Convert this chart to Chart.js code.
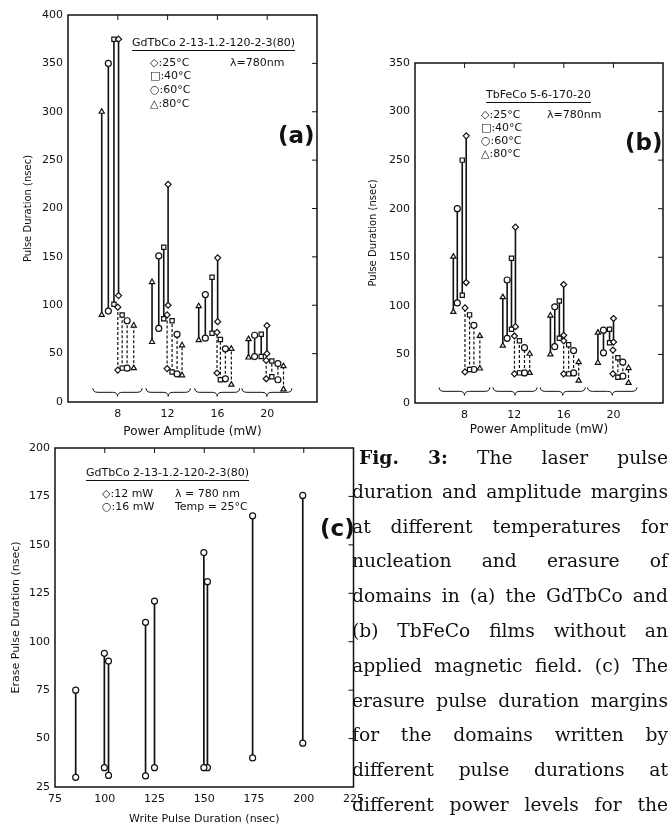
<!DOCTYPE html>
<html lang="en">
<head>
<meta charset="UTF-8">
<script src="https://cdn.jsdelivr.net/npm/chart.js@4.4.0/dist/chart.umd.min.js"></script>
<style>
  body { margin: 0; background: #fff; width: 672px; height: 826px; position: relative; overflow: hidden; font-family: "DejaVu Sans", sans-serif; color: #111; }
  canvas { position: absolute; }
  .lbl { position: absolute; font-size: 11px; white-space: nowrap; line-height: 13px; }
  .u { border-bottom: 1.5px solid #111; padding-bottom: 1px; }
  .big { position: absolute; font-size: 23px; font-weight: bold; line-height: 26px; }
  #caption { position: absolute; left: 352px; top: 440px; width: 316px; font-family: "DejaVu Serif", serif; font-size: 18.7px; }
  #caption div { height: 34.8px; line-height: 34.8px; text-align: justify; text-align-last: justify; white-space: nowrap; }
</style>
</head>
<body>
<canvas id="chartA" width="330" height="440" style="left:0;top:0"></canvas>
<canvas id="chartB" width="332" height="440" style="left:340px;top:0"></canvas>
<canvas id="chartC" width="370" height="396" style="left:0;top:430px"></canvas>

<!-- panel (a) labels -->
<div class="lbl u" style="left:132px;top:36px">GdTbCo 2-13-1.2-120-2-3(80)</div>
<div class="lbl" style="left:150px;top:56px">◇:25°C</div>
<div class="lbl" style="left:230px;top:56px">λ=780nm</div>
<div class="lbl" style="left:150px;top:69px">□:40°C</div>
<div class="lbl" style="left:150px;top:83px">○:60°C</div>
<div class="lbl" style="left:150px;top:97px">△:80°C</div>
<div class="big" style="left:278px;top:122px">(a)</div>

<!-- panel (b) labels -->
<div class="lbl u" style="left:486px;top:88px">TbFeCo 5-6-170-20</div>
<div class="lbl" style="left:481px;top:108px">◇:25°C</div>
<div class="lbl" style="left:547px;top:108px">λ=780nm</div>
<div class="lbl" style="left:481px;top:121px">□:40°C</div>
<div class="lbl" style="left:481px;top:134px">○:60°C</div>
<div class="lbl" style="left:481px;top:147px">△:80°C</div>
<div class="big" style="left:625px;top:129px">(b)</div>

<!-- panel (c) labels -->
<div class="lbl u" style="left:86px;top:466px">GdTbCo 2-13-1.2-120-2-3(80)</div>
<div class="lbl" style="left:102px;top:487px">◇:12 mW</div>
<div class="lbl" style="left:102px;top:500px">○:16 mW</div>
<div class="lbl" style="left:175px;top:487px">λ = 780 nm</div>
<div class="lbl" style="left:175px;top:500px">Temp = 25°C</div>
<div class="big" style="left:320px;top:515px">(c)</div>

<div id="caption">
  <div style="padding-left:7px"><b>Fig.</b> <b>3:</b> The laser pulse</div>
  <div>duration and amplitude margins</div>
  <div>at different temperatures for</div>
  <div>nucleation and erasure of</div>
  <div>domains in (a) the GdTbCo and</div>
  <div>(b) TbFeCo films without an</div>
  <div>applied magnetic field. (c) The</div>
  <div>erasure pulse duration margins</div>
  <div>for the domains written by</div>
  <div>different pulse durations at</div>
  <div>different power levels for the</div>
</div>

<script>
// order of temperatures: 25, 40, 60, 80 °C
var temps = ['25°C', '40°C', '60°C', '80°C'];
var marks = ['rectRot', 'rect', 'circle', 'triangle'];

// (a) GdTbCo - write (solid) margins, power in mW
var aWriteX  = [[8.06, 12.04, 16.02, 19.98], [7.69, 11.69, 15.57, 19.52], [7.24, 11.29, 15.03, 18.99], [6.71, 10.75, 14.5, 18.5]];
var aWriteLo = [[110, 100, 83, 50], [101, 86, 71, 47], [94, 76, 66, 47], [90, 62, 64, 46]];
var aWriteHi = [[375, 225, 149, 79], [375, 160, 129, 70], [350, 151, 111, 69], [300, 124, 99, 65]];
// (a) erase (dashed) margins
var aEraseX  = [[8.0, 11.96, 15.97, 19.92], [8.35, 12.36, 16.24, 20.37], [8.75, 12.76, 16.64, 20.86], [9.28, 13.16, 17.12, 21.31]];
var aEraseLo = [[33, 34.5, 30, 24], [35, 31, 23, 26], [35, 29, 24, 23], [35, 27.6, 18, 13]];
var aEraseHi = [[98, 90, 72, 43], [90, 84, 64.5, 42.4], [84, 70, 55, 39.7], [79, 58.6, 55, 37]];

// (b) TbFeCo
var bWriteX  = [[8.13, 12.1, 15.99, 20.01], [7.81, 11.78, 15.64, 19.69], [7.41, 11.43, 15.27, 19.2], [7.09, 11.08, 14.92, 18.75]];
var bWriteLo = [[124, 78.6, 69.7, 62.7], [111, 76, 66.6, 62], [103, 66.6, 58, 51.7], [93.8, 59, 50, 41.4]];
var bWriteHi = [[275, 181, 122, 87], [250, 149, 105, 76], [200, 126.6, 99, 75], [150.7, 109, 90, 72.4]];
var bEraseX  = [[8.03, 12.02, 15.99, 19.96], [8.4, 12.42, 16.39, 20.36], [8.75, 12.83, 16.79, 20.76], [9.23, 13.25, 17.2, 21.22]];
var bEraseLo = [[32, 30, 30, 30], [34.5, 31, 30, 26.5], [34.5, 31, 31, 27.6], [35.5, 31, 23, 20.7]];
var bEraseHi = [[98, 69, 64, 54.5], [90.7, 64, 60, 46.5], [80, 57, 54, 42], [69, 50.7, 42, 36]];

// (c) erase margins vs write pulse duration (nsec)
var c12X  = [85.4, 99.8, 120.5, 149.8, 174.3, 199.5];
var c12Lo = [30, 35, 30.7, 35, 40, 47.6];
var c12Hi = [75, 94, 110, 146, 165, 175.5];
var c16X  = [101.9, 125, 151.6];
var c16Lo = [31, 35, 35];
var c16Hi = [90, 121, 131];

// brace groups under the power values
var bracesA = [[6.0, 9.95], [10.27, 13.83], [14.18, 17.79], [17.97, 21.98]];
var bracesB = [[5.94, 10.04], [10.3, 13.84], [14.1, 17.73], [17.92, 21.9]];

var ink = '#111';

function segs(xs, lo, hi) {
    var out = [];
    for (var i = 0; i < xs.length; i++) {
        out.push({x: xs[i], y: lo[i]}, {x: xs[i], y: hi[i]}, {x: xs[i], y: null});
    }
    return out;
}

function seg(label, data, width, dash, mark) {
    return {label: label, data: data, borderColor: ink, borderWidth: width, borderDash: dash,
            pointStyle: mark, pointRadius: 3, pointBorderWidth: 1.2,
            pointBackgroundColor: '#fff', pointBorderColor: ink};
}

function seriesSet(wx, wlo, whi, ex, elo, ehi) {
    var ds = [];
    for (var t = 0; t < 4; t++) {
        ds.push(seg(temps[t] + ' write', segs(wx[t], wlo[t], whi[t]), 1.6, [], marks[t]));
        ds.push(seg(temps[t] + ' erase', segs(ex[t], elo[t], ehi[t]), 1.2, [3, 2], marks[t]));
    }
    return ds;
}

// frame with inward ticks on top/right, plus braces
var framePlugin = {
    id: 'frame',
    afterDatasetsDraw: function (chart, args, opts) {
        var ctx = chart.ctx, a = chart.chartArea, sx = chart.scales.x, sy = chart.scales.y;
        ctx.save();
        ctx.strokeStyle = ink;
        ctx.lineWidth = 1.5;
        ctx.strokeRect(a.left, a.top, a.right - a.left, a.bottom - a.top);
        ctx.lineWidth = 1;
        sx.ticks.forEach(function (t) {
            var px = sx.getPixelForValue(t.value);
            if (px > a.left + 2 && px < a.right - 2) {
                ctx.beginPath(); ctx.moveTo(px, a.top); ctx.lineTo(px, a.top + 5); ctx.stroke();
            }
        });
        sy.ticks.forEach(function (t) {
            var py = sy.getPixelForValue(t.value);
            if (py > a.top + 2 && py < a.bottom - 2) {
                ctx.beginPath(); ctx.moveTo(a.right, py); ctx.lineTo(a.right - 5, py); ctx.stroke();
            }
        });
        (opts.braces || []).forEach(function (b) {
            var x0 = sx.getPixelForValue(b[0]), x1 = sx.getPixelForValue(b[1]);
            var m = (x0 + x1) / 2, y = sy.getPixelForValue(opts.braceY);
            ctx.beginPath();
            ctx.moveTo(x0, y - 4);
            ctx.quadraticCurveTo(x0, y, x0 + 5, y);
            ctx.lineTo(m - 5, y);
            ctx.quadraticCurveTo(m, y, m, y + 4);
            ctx.quadraticCurveTo(m, y, m + 5, y);
            ctx.lineTo(x1 - 5, y);
            ctx.quadraticCurveTo(x1, y, x1, y - 4);
            ctx.stroke();
        });
        ctx.restore();
    }
};

function makeChart(id, datasets, cfg) {
    return new Chart(document.getElementById(id), {
        type: 'line',
        data: {datasets: datasets},
        plugins: [framePlugin],
        options: {
            responsive: false,
            animation: false,
            spanGaps: false,
            layout: {padding: cfg.padding},
            plugins: {
                colors: {enabled: false},
                legend: {display: false},
                tooltip: {enabled: false},
                frame: {braces: cfg.braces, braceY: cfg.braceY}
            },
            scales: {
                x: {
                    type: 'linear', min: cfg.xMin, max: cfg.xMax,
                    grid: {display: false, drawTicks: false},
                    border: {display: false},
                    ticks: {stepSize: cfg.xStep, color: ink, padding: 6, font: {family: 'DejaVu Sans', size: 11},
                            maxRotation: 0, autoSkip: false, callback: cfg.xCb},
                    title: {display: true, text: cfg.xTitle, color: ink, font: {family: 'DejaVu Sans', size: cfg.xTitleSize},
                            padding: {top: 0, bottom: cfg.xTitlePad}},
                    afterFit: function (s) { s.height = cfg.xH; }
                },
                y: {
                    min: cfg.yMin, max: cfg.yMax,
                    grid: {display: false, drawTicks: false},
                    border: {display: false},
                    ticks: {stepSize: cfg.yStep, color: ink, padding: 5, font: {family: 'DejaVu Sans', size: 11}},
                    title: {display: true, text: cfg.yTitle, color: ink, font: {family: 'DejaVu Sans', size: cfg.yTitleSize},
                            padding: {top: cfg.yTitlePad, bottom: 0}},
                    afterFit: function (s) { s.width = cfg.yW; }
                }
            }
        }
    });
}

var hideEnds = function (v) { return (v === 4 || v === 24) ? '' : v; };

makeChart('chartA', seriesSet(aWriteX, aWriteLo, aWriteHi, aEraseX, aEraseLo, aEraseHi), {
    padding: {top: 15, right: 13, left: 0, bottom: 0},
    xMin: 4, xMax: 24, xStep: 4, xCb: hideEnds, xTitle: 'Power Amplitude (mW)', xTitleSize: 12, xTitlePad: 1, xH: 38,
    yMin: 0, yMax: 400, yStep: 50, yTitle: 'Pulse Duration (nsec)', yTitleSize: 10, yTitlePad: 22, yW: 68,
    braces: bracesA, braceY: 10
});

makeChart('chartB', seriesSet(bWriteX, bWriteLo, bWriteHi, bEraseX, bEraseLo, bEraseHi), {
    padding: {top: 63, right: 9, left: 0, bottom: 0},
    xMin: 4, xMax: 24, xStep: 4, xCb: hideEnds, xTitle: 'Power Amplitude (mW)', xTitleSize: 12, xTitlePad: 3, xH: 37,
    yMin: 0, yMax: 350, yStep: 50, yTitle: 'Pulse Duration (nsec)', yTitleSize: 10, yTitlePad: 27, yW: 75,
    braces: bracesB, braceY: 12
});

makeChart('chartC', [
    seg('12 mW', segs(c12X, c12Lo, c12Hi), 1.7, [], 'circle'),
    seg('16 mW', segs(c16X, c16Lo, c16Hi), 1.7, [], 'circle')
], {
    padding: {top: 18, right: 14, left: 0, bottom: 0},
    xMin: 75, xMax: 225, xStep: 25, xCb: function (v) { return v; }, xTitle: 'Write Pulse Duration (nsec)', xTitleSize: 11, xTitlePad: 0, xH: 39,
    yMin: 25, yMax: 200, yStep: 25, yTitle: 'Erase Pulse Duration (nsec)', yTitleSize: 11, yTitlePad: 10, yW: 55,
    braces: [], braceY: 0
});
</script>
</body>
</html>
